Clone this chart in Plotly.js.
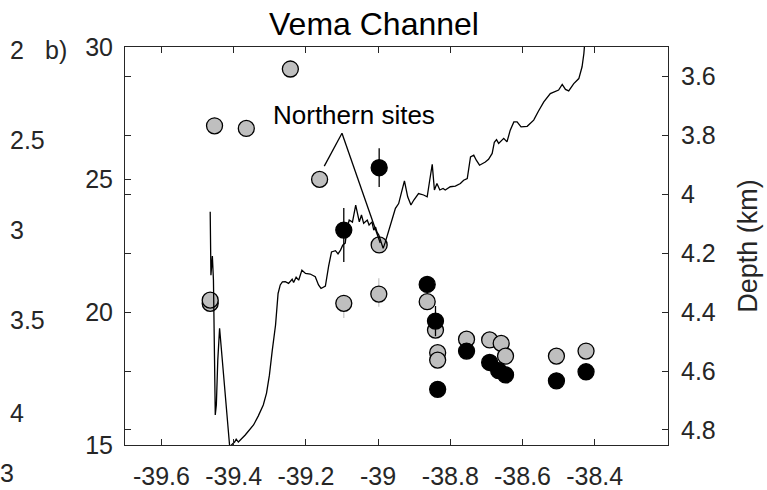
<!DOCTYPE html>
<html>
<head>
<meta charset="utf-8">
<script src="https://cdn.plot.ly/plotly-3.0.1.min.js"></script>
<style>html,body{margin:0;padding:0;background:#fff;}#chart{width:767px;height:490px;}</style>
</head>
<body>
<div id="chart"></div>
<script>
// Bathymetry profile (longitude, depth km)
const lineLon = [-39.465,-39.463,-39.459,-39.458,-39.456,-39.453,-39.451,-39.448,-39.444,-39.439,-39.434,-39.423,-39.411,
  -39.406,-39.397,-39.393,-39.387,-39.368,-39.345,-39.332,-39.318,-39.309,-39.301,-39.293,-39.284,-39.277,-39.271,-39.265,
  -39.257,-39.248,-39.238,-39.234,-39.227,-39.220,-39.211,-39.201,-39.188,-39.174,-39.165,-39.158,-39.146,-39.137,-39.129,
  -39.118,-39.111,-39.104,-39.098,-39.091,-39.086,-39.080,-39.071,-39.062,-39.058,-39.052,-39.046,-39.040,-39.030,-39.025,
  -39.017,-39.012,-39.007,-39.003,-38.998,-38.994,-38.986,-38.980,-38.971,-38.960,-38.952,-38.943,-38.935,-38.927,-38.918,
  -38.909,-38.901,-38.888,-38.874,-38.864,-38.857,-38.850,-38.844,-38.837,-38.829,-38.820,-38.814,-38.800,-38.786,-38.772,
  -38.763,-38.753,-38.744,-38.735,-38.728,-38.719,-38.703,-38.694,-38.684,-38.678,-38.672,-38.666,-38.652,-38.643,-38.634,
  -38.624,-38.615,-38.604,-38.587,-38.569,-38.556,-38.541,-38.523,-38.500,-38.490,-38.481,-38.472,-38.458,-38.444,-38.435,
  -38.430,-38.427];
const lineDepth = [4.060,4.275,4.210,4.251,4.292,4.563,4.749,4.715,4.563,4.455,4.529,4.698,4.857,
  4.851,4.840,4.831,4.841,4.817,4.783,4.753,4.715,4.675,4.614,4.529,4.444,4.337,4.308,4.298,
  4.297,4.303,4.289,4.300,4.282,4.292,4.258,4.269,4.271,4.280,4.308,4.320,4.312,4.244,4.196,
  4.192,4.203,4.190,4.173,4.166,4.115,4.088,4.095,4.037,4.060,4.094,4.071,4.099,4.088,4.105,
  4.094,4.122,4.112,4.129,4.139,4.156,4.184,4.163,4.122,4.081,4.048,4.032,3.993,3.955,4.009,
  4.037,4.020,3.998,4.003,4.009,3.953,3.899,3.986,3.964,3.986,3.981,3.986,3.975,3.973,3.964,
  3.953,3.947,3.874,3.868,3.885,3.902,3.891,3.882,3.862,3.824,3.815,3.828,3.811,3.823,3.783,
  3.755,3.755,3.772,3.770,3.749,3.719,3.687,3.659,3.647,3.628,3.645,3.650,3.625,3.608,3.568,
  3.523,3.478];

// Grey sites
const greyLon = [-39.243,-39.453,-39.365,-39.162,-38.997,-38.998,-39.095,-39.465,-39.465,-38.864,-38.841,-38.835,-38.835,
  -38.755,-38.691,-38.659,-38.647,-38.506,-38.424];
const greyVal = [29.17,27.03,26.93,25.01,22.54,20.69,20.34,20.34,20.46,20.40,19.33,18.48,18.20,
  18.99,18.96,18.83,18.35,18.35,18.54];
const greyErrPlus  = [0,0,0,0,0,0.59,0.25,0,0,0,0,0,0,0,0,0,0,0,0];
const greyErrMinus = [0,0,0,0,0,0.48,0.55,0,0,0,0,0,0,0,0,0,0,0,0];

// Black sites
const blackLon = [-39.095,-38.997,-38.864,-38.841,-38.755,-38.691,-38.666,-38.647,-38.835,-38.506,-38.424];
const blackVal = [23.10,25.45,21.05,19.67,18.54,18.11,17.80,17.64,17.10,17.42,17.76];
const blackErrPlus  = [0.83,0.73,0,0.57,0,0,0,0,0,0,0];
const blackErrMinus = [1.20,0.73,0,0.57,0,0,0,0,0,0,0];

// Axis ticks
const xTicks = [-39.6,-39.4,-39.2,-39,-38.8,-38.6,-38.4];
const xTickText = ["-39.6","-39.4","-39.2","-39","-38.8","-38.6","-38.4"];
const yTicks = [15,20,25,30];
const depthTicks = [3.6,3.8,4.0,4.2,4.4,4.6,4.8];
const depthTickText = ["3.6","3.8","4","4.2","4.4","4.6","4.8"];

// Annotation pointer ("Northern sites")
const noteLon = [-39.149,-39.100,-38.994];
const noteVal = [25.51,26.75,22.61];
const noteTextLon = -39.068, noteTextVal = 27.44;

// Labels of the neighbouring (cropped) panel
const sideLabels = ["2","2.5","3","3.5","4","3"];
const sideLabelY = [0.9925,0.766,0.540,0.314,0.080,-0.070];
const sideLabelPx = [8,8,8,8,8,-2];

const AX = '#262626';
const FONT = 'Liberation Sans, Arial, Helvetica, sans-serif';

const traces = [
  {x: greyLon, y: greyVal, type:'scatter', mode:'markers', yaxis:'y', xaxis:'x',
   marker:{size:16, color:'#bfbfbf', line:{color:'#000', width:1.3}},
   error_y:{type:'data', symmetric:false, array:greyErrPlus, arrayminus:greyErrMinus, color:'#c8c8c8', thickness:1.3, width:0},
   hoverinfo:'skip', showlegend:false},
  {x: blackLon, y: blackVal, type:'scatter', mode:'markers', yaxis:'y', xaxis:'x',
   marker:{size:16, color:'#000', line:{color:'#000', width:1.3}},
   error_y:{type:'data', symmetric:false, array:blackErrPlus, arrayminus:blackErrMinus, color:'#000', thickness:1.3, width:0},
   hoverinfo:'skip', showlegend:false},
  {x: lineLon, y: lineDepth, type:'scatter', mode:'lines', yaxis:'y2', xaxis:'x',
   line:{color:'#000', width:1.3}, hoverinfo:'skip', showlegend:false}
];

const annotations = [
  {text:'Northern sites', x:noteTextLon, y:noteTextVal, xref:'x', yref:'y', showarrow:false,
   font:{family:FONT, size:26, color:'#000'}, xanchor:'center', yanchor:'middle'},
  {text:'b)', x:(43-125)/543, y:sideLabelY[0], xref:'paper', yref:'paper', xanchor:'left', yanchor:'middle',
   showarrow:false, font:{family:FONT, size:25, color:AX}}
];
sideLabels.forEach((t,i)=>{
  annotations.push({text:t, x:(sideLabelPx[i] - 125)/543, y:sideLabelY[i], xref:'paper', yref:'paper',
    xanchor:'left', yanchor:'middle', showarrow:false, font:{family:FONT, size:25, color:AX}});
});

const shapes = [
  {type:'line', xref:'x', yref:'y', x0:noteLon[0], y0:noteVal[0], x1:noteLon[1], y1:noteVal[1], line:{color:'#000', width:1.3}, layer:'above'},
  {type:'line', xref:'x', yref:'y', x0:noteLon[1], y0:noteVal[1], x1:noteLon[2], y1:noteVal[2], line:{color:'#000', width:1.3}, layer:'above'}
];

const layout = {
  width:767, height:490,
  margin:{l:125, r:99, t:47, b:45, pad:0},
  paper_bgcolor:'#fff', plot_bgcolor:'#fff',
  font:{family:FONT, size:25, color:AX},
  title:{text:'Vema Channel', font:{family:FONT, size:32, color:'#000'}, x:374/767, xref:'container', xanchor:'center',
         y:1-24/490, yref:'container', yanchor:'middle'},
  xaxis:{range:[-39.701,-38.197], tickvals:xTicks, ticktext:xTickText, ticks:'inside', ticklen:6, tickcolor:AX,
         showline:true, linecolor:AX, linewidth:1, mirror:'ticks', showgrid:false, zeroline:false, ticklabelstandoff:9,
         tickfont:{family:FONT, size:25, color:AX}},
  yaxis:{range:[15,30], tickvals:yTicks, ticks:'inside', ticklen:6, tickcolor:AX, showline:true, linecolor:AX, linewidth:1,
         showgrid:false, zeroline:false, ticklabelstandoff:6, tickfont:{family:FONT, size:25, color:AX}},
  yaxis2:{range:[4.851,3.501], overlaying:'y', side:'right', tickvals:depthTicks, ticktext:depthTickText, ticks:'inside', ticklen:6,
          tickcolor:AX, showline:true, linecolor:AX, linewidth:1, mirror:'ticks', showgrid:false, zeroline:false,
          ticklabelstandoff:7, tickfont:{family:FONT, size:25, color:AX},
          title:{text:'Depth (km)', font:{family:FONT, size:27, color:AX}, standoff:23}},
  annotations: annotations,
  shapes: shapes
};

Plotly.newPlot('chart', traces, layout, {displayModeBar:false, staticPlot:true});
</script>
</body>
</html>
